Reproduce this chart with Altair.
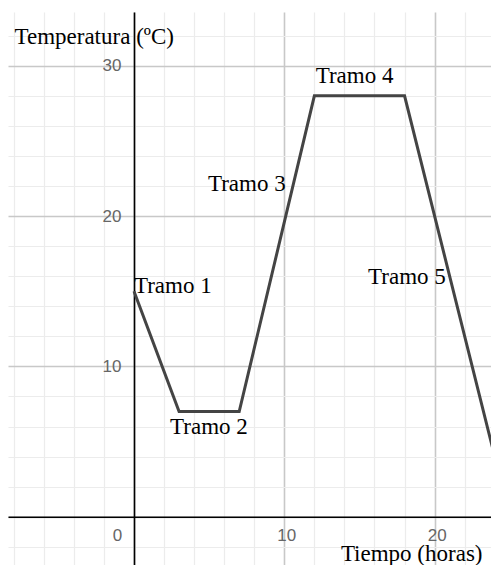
import altair as alt
import pandas as pd

# Temperature profile (piecewise linear)
tiempo = [0, 3, 7, 12, 18, 24]
temperatura = [15, 7, 7, 28, 28, 4]

# Segment annotations
tramo_nombres = ["Tramo 1", "Tramo 2", "Tramo 3", "Tramo 4", "Tramo 5"]
tramo_x = [0.0, 2.4, 4.92, 12.09, 15.57]
tramo_y = [14.88, 5.5, 21.67, 28.84, 15.48]

# Visible window and grid steps
x_dominio = [-8.38, 23.75]
y_dominio = [-3.21, 33.58]
x_valores = list(range(-8, 24, 2))
y_valores = list(range(-2, 34, 2))

curva = pd.DataFrame({"t": tiempo, "T": temperatura})
etiquetas = pd.DataFrame({"nombre": tramo_nombres, "t": tramo_x, "T": tramo_y})

grid_color = {"condition": {"test": "datum.value % 10 === 0", "value": "#c8c8c8"}, "value": "#ececec"}
grid_width = {"condition": {"test": "datum.value % 10 === 0", "value": 1.6}, "value": 1.2}

eje_x = alt.Axis(
    values=x_valores,
    tickCount=100,
    format="d",
    grid=True,
    gridColor=grid_color,
    gridWidth=grid_width,
    ticks=False,
    tickSize=0,
    domainColor="black",
    domainWidth=1.6,
    offset=-48.3,
    labelExpr="datum.value >= 0 && datum.value % 10 === 0 ? datum.label : ''",
    labelFont="Liberation Sans",
    labelFontSize=17,
    labelColor="#666666",
    labelPadding=11,
    labelOffset={"condition": {"test": "datum.value === 0", "value": -17}, "value": 2},
    labelFlush=False,
    labelOverlap=False,
    labelBound=False,
    title="Tiempo (horas)",
    titleFont="Liberation Serif",
    titleFontSize=23,
    titleFontWeight="normal",
    titleColor="black",
    titleAlign="right",
    titleBaseline="alphabetic",
    titleX=474,
    titleY=44,
)

eje_y = alt.Axis(
    values=y_valores,
    tickCount=100,
    format="d",
    grid=True,
    gridColor=grid_color,
    gridWidth=grid_width,
    ticks=False,
    tickSize=0,
    domainColor="black",
    domainWidth=1.6,
    offset=-126,
    labelExpr="datum.value > 0 && datum.value % 10 === 0 ? datum.label : ''",
    labelFont="Liberation Sans",
    labelFontSize=17,
    labelColor="#666666",
    labelPadding=13,
    labelFlush=False,
    labelOverlap=False,
    labelBound=False,
    title="Temperatura (ºC)",
    titleFont="Liberation Serif",
    titleFontSize=23,
    titleFontWeight="normal",
    titleColor="black",
    titleAngle=0,
    titleAlign="left",
    titleBaseline="alphabetic",
    titleX=-120,
    titleY=31,
)

x_enc = alt.X("t:Q", scale=alt.Scale(domain=x_dominio, nice=False, zero=False), axis=eje_x)
y_enc = alt.Y("T:Q", scale=alt.Scale(domain=y_dominio, nice=False, zero=False), axis=eje_y)

linea = alt.Chart(curva).mark_line(
    color="#444444", strokeWidth=3, clip=True, strokeJoin="miter"
).encode(x=x_enc, y=y_enc)

textos = alt.Chart(etiquetas).mark_text(
    font="Liberation Serif", fontSize=23, color="black", align="left", baseline="alphabetic"
).encode(x=alt.X("t:Q"), y=alt.Y("T:Q"), text="nombre:N")

chart = (
    alt.layer(linea, textos)
    .properties(
        width=483,
        height=553,
        padding={"left": 8, "top": 12, "right": 0, "bottom": 0},
        autosize=alt.AutoSizeParams(type="none"),
        background="white",
    )
    .configure_view(stroke=None)
)

chart.save("out.html", embed_options={"renderer": "svg", "actions": False})
